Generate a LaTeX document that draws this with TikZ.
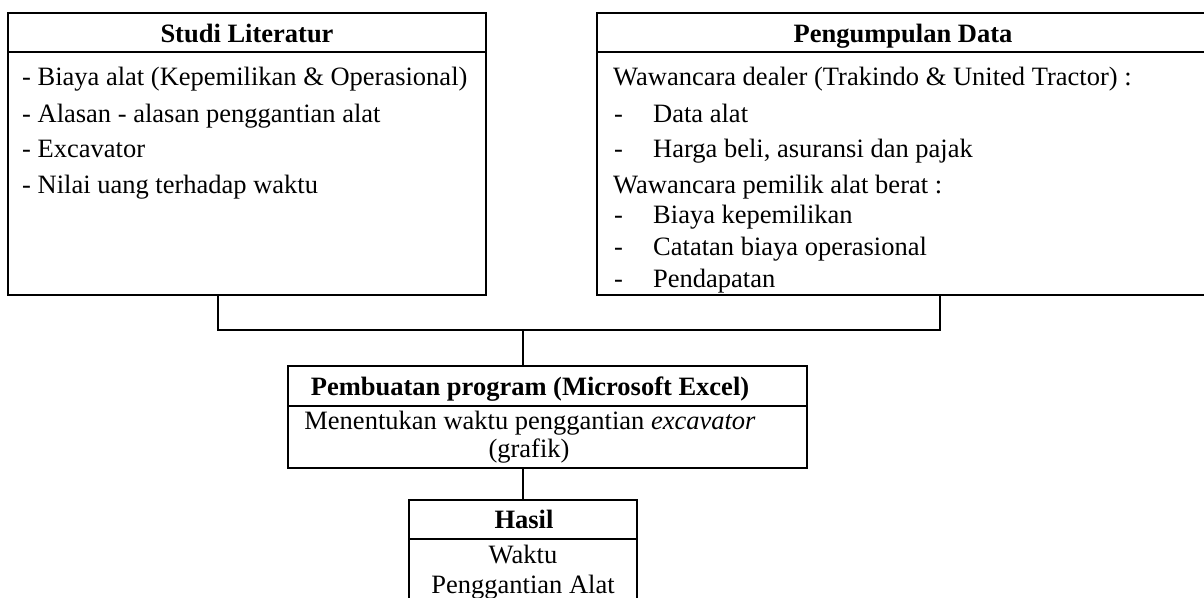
\documentclass[tikz,border=0pt]{standalone}
\usepackage{fontspec}
\setmainfont{Liberation Serif}
\begin{document}
\begin{tikzpicture}[x=1pt,y=-1pt,
  box/.style={draw,line width=1.8pt,rectangle,inner sep=0pt},
  ln/.style={line width=1.8pt},
  txt/.style={anchor=base west,inner sep=0pt,font=\fontsize{26.5}{32}\selectfont},
  ctxt/.style={anchor=base,inner sep=0pt,font=\fontsize{26.5}{32}\selectfont},
  hdr/.style={anchor=base,inner sep=0pt,font=\fontsize{26.5}{32}\selectfont\bfseries}]
\useasboundingbox (0,0) rectangle (1204,597);
\clip (0,0) rectangle (1204,597);
% boxes
\node[box,minimum width=478pt,minimum height=282pt] (lit) at (247,154) {};
\node[box,minimum width=612pt,minimum height=282pt] (pd) at (903,154) {};
\node[box,minimum width=519pt,minimum height=102pt] (prog) at (547.5,417) {};
\node[box,minimum width=228pt,minimum height=120pt] (hasil) at (523,560) {};
% header dividers
\draw[ln] (lit.west |- 0,52) -- (lit.east |- 0,52);
\draw[ln] (pd.west |- 0,52) -- (pd.east |- 0,52);
\draw[ln] (prog.west |- 0,406) -- (prog.east |- 0,406);
\draw[ln] (hasil.west |- 0,539) -- (hasil.east |- 0,539);
% left texts
\node[hdr] (h1) at (247,42) {Studi Literatur};
\node[txt] (l1) at (22,85) {- Biaya alat (Kepemilikan \& Operasional)};
\node[txt] (l2) at (22,122) {- Alasan - alasan penggantian alat};
\node[txt] (l3) at (22,157) {- Excavator};
\node[txt] (l4) at (22,193) {- Nilai uang terhadap waktu};
% right texts
\node[hdr] (h2) at (903,42) {Pengumpulan Data};
\node[txt] (r1) at (613,85) {Wawancara dealer (Trakindo \& United Tractor) :};
\node[txt] (d2) at (614,122) {-};
\node[txt] (r2) at (653,122) {Data alat};
\node[txt] (d3) at (614,157) {-};
\node[txt] (r3) at (653,157) {Harga beli, asuransi dan pajak};
\node[txt] (r4) at (613,193) {Wawancara pemilik alat berat :};
\node[txt] (d5) at (614,223) {-};
\node[txt] (r5) at (653,223) {Biaya kepemilikan};
\node[txt] (d6) at (614,255) {-};
\node[txt] (r6) at (653,255) {Catatan biaya operasional};
\node[txt] (d7) at (614,287) {-};
\node[txt] (r7) at (653,287) {Pendapatan};
% middle
\node[hdr] (h3) at (530,395) {Pembuatan program (Microsoft Excel)};
\node[ctxt] (m1) at (530,429) {Menentukan waktu penggantian \textit{excavator}};
\node[ctxt] (m2) at (529,457) {(grafik)};
% hasil
\node[hdr] (h4) at (524,528) {Hasil};
\node[ctxt] (s1) at (523,563) {Waktu};
\node[ctxt] (s2) at (523,593) {Penggantian Alat};
% connectors
\coordinate (jl) at (218,330);
\coordinate (jr) at (940,330);
\coordinate (jm) at (523,330);
\draw[ln] (lit.south -| jl) -- (jl) -- (jr) -- (pd.south -| jr);
\draw[ln] (jm) -- (prog.north -| jm);
\draw[ln] (prog.south -| hasil.north) -- (hasil.north);
\end{tikzpicture}
\end{document}
